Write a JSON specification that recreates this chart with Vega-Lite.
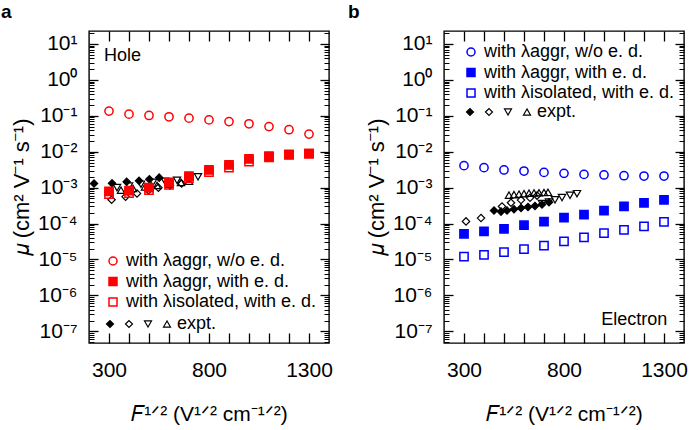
{
  "$schema": "https://vega.github.io/schema/vega-lite/v6.json",
  "padding": {"left": 0, "top": 2, "right": 5, "bottom": 5},
  "config": {
    "font": "Liberation Sans",
    "view": {"stroke": "black", "strokeWidth": 1.4},
    "axis": {"domain": false, "grid": false, "tickColor": "black", "tickWidth": 1.3, "labelColor": "black", "titleColor": "black", "titleFontWeight": "normal", "labelFontSize": 21, "titleFontSize": 21, "labelFlush": false, "labelOverlap": false},
    "legend": {"labelFontSize": 18, "labelColor": "black", "padding": 0, "labelLimit": 400}
  },
  "datasets": {
    "a_calc": [
      {"x": 300, "mu": 0.135, "series": "with λaggr, w/o e. d."},
      {"x": 400, "mu": 0.111, "series": "with λaggr, w/o e. d."},
      {"x": 500, "mu": 0.102, "series": "with λaggr, w/o e. d."},
      {"x": 600, "mu": 0.094, "series": "with λaggr, w/o e. d."},
      {"x": 700, "mu": 0.086, "series": "with λaggr, w/o e. d."},
      {"x": 800, "mu": 0.077, "series": "with λaggr, w/o e. d."},
      {"x": 900, "mu": 0.069, "series": "with λaggr, w/o e. d."},
      {"x": 1000, "mu": 0.060, "series": "with λaggr, w/o e. d."},
      {"x": 1100, "mu": 0.050, "series": "with λaggr, w/o e. d."},
      {"x": 1200, "mu": 0.041, "series": "with λaggr, w/o e. d."},
      {"x": 1300, "mu": 0.031, "series": "with λaggr, w/o e. d."},
      {"x": 300, "mu": 0.00079, "series": "with λaggr, with e. d."},
      {"x": 400, "mu": 0.00083, "series": "with λaggr, with e. d."},
      {"x": 500, "mu": 0.0010, "series": "with λaggr, with e. d."},
      {"x": 600, "mu": 0.0014, "series": "with λaggr, with e. d."},
      {"x": 700, "mu": 0.0021, "series": "with λaggr, with e. d."},
      {"x": 800, "mu": 0.0031, "series": "with λaggr, with e. d."},
      {"x": 900, "mu": 0.0043, "series": "with λaggr, with e. d."},
      {"x": 1000, "mu": 0.0063, "series": "with λaggr, with e. d."},
      {"x": 1100, "mu": 0.0076, "series": "with λaggr, with e. d."},
      {"x": 1200, "mu": 0.0084, "series": "with λaggr, with e. d."},
      {"x": 1300, "mu": 0.0089, "series": "with λaggr, with e. d."},
      {"x": 300, "mu": 0.00066, "series": "with λisolated, with e. d."},
      {"x": 400, "mu": 0.00070, "series": "with λisolated, with e. d."},
      {"x": 500, "mu": 0.00085, "series": "with λisolated, with e. d."},
      {"x": 600, "mu": 0.0012, "series": "with λisolated, with e. d."},
      {"x": 700, "mu": 0.0018, "series": "with λisolated, with e. d."},
      {"x": 800, "mu": 0.0027, "series": "with λisolated, with e. d."},
      {"x": 900, "mu": 0.0036, "series": "with λisolated, with e. d."},
      {"x": 1000, "mu": 0.0053, "series": "with λisolated, with e. d."},
      {"x": 1100, "mu": 0.0070, "series": "with λisolated, with e. d."},
      {"x": 1200, "mu": 0.0082, "series": "with λisolated, with e. d."},
      {"x": 1300, "mu": 0.0088, "series": "with λisolated, with e. d."}
    ],
    "a_expt": [
      {"x": 225, "mu": 0.0013, "series": "e1"},
      {"x": 315, "mu": 0.00132, "series": "e1"},
      {"x": 388, "mu": 0.00145, "series": "e1"},
      {"x": 450, "mu": 0.00155, "series": "e1"},
      {"x": 502, "mu": 0.00172, "series": "e1"},
      {"x": 551, "mu": 0.0019, "series": "e1"},
      {"x": 313, "mu": 0.00046, "series": "e2"},
      {"x": 383, "mu": 0.00056, "series": "e2"},
      {"x": 440, "mu": 0.00069, "series": "e2"},
      {"x": 497, "mu": 0.00085, "series": "e2"},
      {"x": 547, "mu": 0.0010, "series": "e2"},
      {"x": 605, "mu": 0.00115, "series": "e2"},
      {"x": 663, "mu": 0.0013, "series": "e2"},
      {"x": 340, "mu": 0.0010, "series": "e3"},
      {"x": 400, "mu": 0.0011, "series": "e3"},
      {"x": 460, "mu": 0.00125, "series": "e3"},
      {"x": 520, "mu": 0.0014, "series": "e3"},
      {"x": 580, "mu": 0.0015, "series": "e3"},
      {"x": 640, "mu": 0.0016, "series": "e3"},
      {"x": 700, "mu": 0.00175, "series": "e3"},
      {"x": 745, "mu": 0.0020, "series": "e3"},
      {"x": 360, "mu": 0.00085, "series": "e4"},
      {"x": 420, "mu": 0.00095, "series": "e4"},
      {"x": 480, "mu": 0.00105, "series": "e4"},
      {"x": 540, "mu": 0.00115, "series": "e4"},
      {"x": 600, "mu": 0.00125, "series": "e4"},
      {"x": 660, "mu": 0.0014, "series": "e4"},
      {"x": 700, "mu": 0.0015, "series": "e4"}
    ],
    "b_calc": [
      {"x": 300, "mu": 0.0041, "series": "with λaggr, w/o e. d."},
      {"x": 400, "mu": 0.0036, "series": "with λaggr, w/o e. d."},
      {"x": 500, "mu": 0.0031, "series": "with λaggr, w/o e. d."},
      {"x": 600, "mu": 0.0029, "series": "with λaggr, w/o e. d."},
      {"x": 700, "mu": 0.00266, "series": "with λaggr, w/o e. d."},
      {"x": 800, "mu": 0.0025, "series": "with λaggr, w/o e. d."},
      {"x": 900, "mu": 0.00234, "series": "with λaggr, w/o e. d."},
      {"x": 1000, "mu": 0.00225, "series": "with λaggr, w/o e. d."},
      {"x": 1100, "mu": 0.00215, "series": "with λaggr, w/o e. d."},
      {"x": 1200, "mu": 0.0021, "series": "with λaggr, w/o e. d."},
      {"x": 1300, "mu": 0.0021, "series": "with λaggr, w/o e. d."},
      {"x": 300, "mu": 0.000052, "series": "with λaggr, with e. d."},
      {"x": 400, "mu": 0.000061, "series": "with λaggr, with e. d."},
      {"x": 500, "mu": 0.000071, "series": "with λaggr, with e. d."},
      {"x": 600, "mu": 0.000090, "series": "with λaggr, with e. d."},
      {"x": 700, "mu": 0.000114, "series": "with λaggr, with e. d."},
      {"x": 800, "mu": 0.000147, "series": "with λaggr, with e. d."},
      {"x": 900, "mu": 0.000178, "series": "with λaggr, with e. d."},
      {"x": 1000, "mu": 0.00023, "series": "with λaggr, with e. d."},
      {"x": 1100, "mu": 0.00030, "series": "with λaggr, with e. d."},
      {"x": 1200, "mu": 0.000376, "series": "with λaggr, with e. d."},
      {"x": 1300, "mu": 0.000455, "series": "with λaggr, with e. d."},
      {"x": 300, "mu": 0.0000121, "series": "with λisolated, with e. d."},
      {"x": 400, "mu": 0.0000135, "series": "with λisolated, with e. d."},
      {"x": 500, "mu": 0.000016, "series": "with λisolated, with e. d."},
      {"x": 600, "mu": 0.0000193, "series": "with λisolated, with e. d."},
      {"x": 700, "mu": 0.0000245, "series": "with λisolated, with e. d."},
      {"x": 800, "mu": 0.000032, "series": "with λisolated, with e. d."},
      {"x": 900, "mu": 0.000041, "series": "with λisolated, with e. d."},
      {"x": 1000, "mu": 0.000054, "series": "with λisolated, with e. d."},
      {"x": 1100, "mu": 0.000067, "series": "with λisolated, with e. d."},
      {"x": 1200, "mu": 0.000083, "series": "with λisolated, with e. d."},
      {"x": 1300, "mu": 0.000111, "series": "with λisolated, with e. d."}
    ],
    "b_expt": [
      {"x": 450, "mu": 0.00023, "series": "e1"},
      {"x": 485, "mu": 0.000215, "series": "e1"},
      {"x": 515, "mu": 0.00023, "series": "e1"},
      {"x": 550, "mu": 0.00025, "series": "e1"},
      {"x": 585, "mu": 0.00027, "series": "e1"},
      {"x": 620, "mu": 0.00029, "series": "e1"},
      {"x": 655, "mu": 0.00031, "series": "e1"},
      {"x": 690, "mu": 0.00034, "series": "e1"},
      {"x": 725, "mu": 0.00039, "series": "e1"},
      {"x": 310, "mu": 0.000115, "series": "e2"},
      {"x": 385, "mu": 0.000142, "series": "e2"},
      {"x": 490, "mu": 0.00030, "series": "e2"},
      {"x": 535, "mu": 0.00038, "series": "e2"},
      {"x": 585, "mu": 0.00045, "series": "e2"},
      {"x": 630, "mu": 0.00052, "series": "e2"},
      {"x": 665, "mu": 0.00060, "series": "e2"},
      {"x": 690, "mu": 0.00036, "series": "e3"},
      {"x": 725, "mu": 0.00040, "series": "e3"},
      {"x": 755, "mu": 0.00046, "series": "e3"},
      {"x": 790, "mu": 0.00053, "series": "e3"},
      {"x": 830, "mu": 0.00061, "series": "e3"},
      {"x": 865, "mu": 0.00068, "series": "e3"},
      {"x": 525, "mu": 0.00062, "series": "e4"},
      {"x": 550, "mu": 0.00064, "series": "e4"},
      {"x": 575, "mu": 0.00066, "series": "e4"},
      {"x": 600, "mu": 0.00068, "series": "e4"},
      {"x": 625, "mu": 0.00070, "series": "e4"},
      {"x": 650, "mu": 0.00071, "series": "e4"},
      {"x": 675, "mu": 0.00072, "series": "e4"},
      {"x": 700, "mu": 0.00073, "series": "e4"},
      {"x": 720, "mu": 0.00074, "series": "e4"}
    ]
  },
  "spacing": 115,
  "bounds": "flush",
  "resolve": {"scale": {"shape": "independent", "fill": "independent", "stroke": "independent"}, "legend": {"shape": "independent", "fill": "independent", "stroke": "independent"}},
  "hconcat": [
    {
      "width": 240,
      "height": 312,
      "title": {"text": "a", "anchor": "start", "frame": "group", "fontSize": 19, "fontWeight": "bold", "dx": -88, "offset": 8, "color": "black"},
      "layer": [
        {
          "data": {"name": "a_expt"},
          "mark": {"type": "point", "opacity": 1, "strokeWidth": 1.2, "size": 54},
          "encoding": {
            "x": {"field": "x", "type": "quantitative", "scale": {"domain": [200, 1400], "nice": false, "zero": false},
              "axis": {"orient": "bottom", "values": [300, 800, 1300], "format": "d", "ticks": false, "labelPadding": 16, "title": "𝐹¹ᐟ² (V¹ᐟ² cm⁻¹ᐟ²)", "titleBaseline": "alphabetic", "titleY": 77}},
            "y": {"field": "mu", "type": "quantitative", "scale": {"type": "log", "domain": [4.73e-8, 22.96], "nice": false},
              "axis": {"orient": "left", "values": [1e-7, 1e-6, 1e-5, 1e-4, 1e-3, 0.01, 0.1, 1, 10], "labelExpr": "['10⁻⁷','10⁻⁶','10⁻⁵','10⁻⁴','10⁻³','10⁻²','10⁻¹','10⁰','10¹'][round(log(datum.value)/LN10)+7]", "ticks": false, "labelPadding": 12, "title": null}},
            "shape": {"field": "series", "type": "nominal", "scale": {"domain": ["e1", "e2", "e3", "e4"], "range": ["diamond", "diamond", "triangle-down", "triangle-up"]},
              "legend": {"orient": "none", "legendX": 12, "legendY": 284, "title": null, "direction": "horizontal", "columns": 4, "labelExpr": "datum.label == 'e4' ? 'expt.' : ''", "symbolSize": 49, "symbolStrokeWidth": 1.2, "labelOffset": 1, "columnPadding": 0}},
            "fill": {"field": "series", "type": "nominal", "scale": {"domain": ["e1", "e2", "e3", "e4"], "range": ["black", "transparent", "transparent", "transparent"]},
              "legend": {"orient": "none", "legendX": 12, "legendY": 284, "title": null, "direction": "horizontal", "columns": 4, "labelExpr": "datum.label == 'e4' ? 'expt.' : ''", "symbolSize": 49, "symbolStrokeWidth": 1.2, "labelOffset": 1, "columnPadding": 0}},
            "stroke": {"field": "series", "type": "nominal", "scale": {"domain": ["e1", "e2", "e3", "e4"], "range": ["black", "black", "black", "black"]},
              "legend": {"orient": "none", "legendX": 12, "legendY": 284, "title": null, "direction": "horizontal", "columns": 4, "labelExpr": "datum.label == 'e4' ? 'expt.' : ''", "symbolSize": 49, "symbolStrokeWidth": 1.2, "labelOffset": 1, "columnPadding": 0}}
          }
        },
        {
          "data": {"name": "a_calc"},
          "mark": {"type": "point", "opacity": 1, "strokeWidth": 1.5, "size": 68},
          "encoding": {
            "x": {"field": "x", "type": "quantitative", "scale": {"domain": [200, 1400], "nice": false, "zero": false},
              "axis": {"orient": "top", "values": [300, 400, 500, 600, 700, 800, 900, 1000, 1100, 1200, 1300], "labels": false, "tickSize": -10, "title": null}},
            "y": {"field": "mu", "type": "quantitative", "scale": {"type": "log", "domain": [4.73e-8, 22.96], "nice": false},
              "axis": {"orient": "right", "values": [1e-7, 1e-6, 1e-5, 1e-4, 1e-3, 0.01, 0.1, 1, 10], "labels": false, "tickSize": -9, "title": null}},
            "shape": {"field": "series", "type": "nominal", "scale": {"domain": ["with λaggr, w/o e. d.", "with λaggr, with e. d.", "with λisolated, with e. d."], "range": ["circle", "square", "square"]},
              "legend": {"orient": "none", "legendX": 15, "legendY": 221, "title": null, "symbolSize": 64, "symbolStrokeWidth": 1.5, "labelOffset": 4, "rowPadding": 2.5}},
            "fill": {"field": "series", "type": "nominal", "scale": {"domain": ["with λaggr, w/o e. d.", "with λaggr, with e. d.", "with λisolated, with e. d."], "range": ["transparent", "#ff0000", "transparent"]},
              "legend": {"orient": "none", "legendX": 15, "legendY": 221, "title": null, "symbolSize": 64, "symbolStrokeWidth": 1.5, "labelOffset": 4, "rowPadding": 2.5}},
            "stroke": {"field": "series", "type": "nominal", "scale": {"domain": ["with λaggr, w/o e. d.", "with λaggr, with e. d.", "with λisolated, with e. d."], "range": ["#ff0000", "#ff0000", "#ff0000"]},
              "legend": {"orient": "none", "legendX": 15, "legendY": 221, "title": null, "symbolSize": 64, "symbolStrokeWidth": 1.5, "labelOffset": 4, "rowPadding": 2.5}}
          }
        },
        {
          "data": {"name": "a_calc"},
          "mark": {"type": "point", "opacity": 0},
          "encoding": {
            "x": {"field": "x", "type": "quantitative", "scale": {"domain": [200, 1400], "nice": false, "zero": false},
              "axis": {"orient": "bottom", "values": [300, 400, 500, 600, 700, 800, 900, 1000, 1100, 1200, 1300], "labels": false, "tickSize": -10, "title": null}},
            "y": {"field": "mu", "type": "quantitative", "scale": {"type": "log", "domain": [4.73e-8, 22.96], "nice": false},
              "axis": {"orient": "left", "values": [5e-8, 6e-8, 7e-8, 8e-8, 9e-8, 2e-7, 3e-7, 4e-7, 5e-7, 6e-7, 7e-7, 8e-7, 9e-7, 2e-6, 3e-6, 4e-6, 5e-6, 6e-6, 7e-6, 8e-6, 9e-6, 2e-5, 3e-5, 4e-5, 5e-5, 6e-5, 7e-5, 8e-5, 9e-5, 2e-4, 3e-4, 4e-4, 5e-4, 6e-4, 7e-4, 8e-4, 9e-4, 0.002, 0.003, 0.004, 0.005, 0.006, 0.007, 0.008, 0.009, 0.02, 0.03, 0.04, 0.05, 0.06, 0.07, 0.08, 0.09, 0.2, 0.3, 0.4, 0.5, 0.6, 0.7, 0.8, 0.9, 2, 3, 4, 5, 6, 7, 8, 9, 20], "labels": false, "tickSize": -5, "tickWidth": 1, "title": null}}
          }
        },
        {
          "data": {"name": "a_calc"},
          "mark": {"type": "point", "opacity": 0},
          "encoding": {
            "x": {"field": "x", "type": "quantitative", "scale": {"domain": [200, 1400], "nice": false, "zero": false}, "axis": null},
            "y": {"field": "mu", "type": "quantitative", "scale": {"type": "log", "domain": [4.73e-8, 22.96], "nice": false},
              "axis": {"orient": "right", "values": [5e-8, 6e-8, 7e-8, 8e-8, 9e-8, 2e-7, 3e-7, 4e-7, 5e-7, 6e-7, 7e-7, 8e-7, 9e-7, 2e-6, 3e-6, 4e-6, 5e-6, 6e-6, 7e-6, 8e-6, 9e-6, 2e-5, 3e-5, 4e-5, 5e-5, 6e-5, 7e-5, 8e-5, 9e-5, 2e-4, 3e-4, 4e-4, 5e-4, 6e-4, 7e-4, 8e-4, 9e-4, 0.002, 0.003, 0.004, 0.005, 0.006, 0.007, 0.008, 0.009, 0.02, 0.03, 0.04, 0.05, 0.06, 0.07, 0.08, 0.09, 0.2, 0.3, 0.4, 0.5, 0.6, 0.7, 0.8, 0.9, 2, 3, 4, 5, 6, 7, 8, 9, 20], "labels": false, "tickSize": -5, "tickWidth": 1, "title": null}}
          }
        },
        {
          "data": {"name": "a_calc"},
          "mark": {"type": "point", "opacity": 0},
          "encoding": {
            "x": {"field": "x", "type": "quantitative", "scale": {"domain": [200, 1400], "nice": false, "zero": false}, "axis": null},
            "y": {"field": "mu", "type": "quantitative", "scale": {"type": "log", "domain": [4.73e-8, 22.96], "nice": false},
              "axis": {"orient": "left", "values": [1e-7, 1e-6, 1e-5, 1e-4, 1e-3, 0.01, 0.1, 1, 10], "labels": false, "tickSize": -9, "title": "𝜇 (cm² V⁻¹ s⁻¹)", "titleFontSize": 22, "titlePadding": 55}}
          }
        },
        {
          "data": {"values": [{}]},
          "mark": {"type": "text", "align": "left", "baseline": "middle", "fontSize": 18, "color": "black"},
          "encoding": {
            "x": {"datum": 275, "type": "quantitative", "scale": {"domain": [200, 1400], "nice": false, "zero": false}, "axis": null},
            "y": {"datum": 4.64, "type": "quantitative", "scale": {"type": "log", "domain": [4.73e-8, 22.96], "nice": false}, "axis": null},
            "text": {"value": "Hole"}
          }
        }
      ],
      "resolve": {"scale": {"shape": "independent", "fill": "independent", "stroke": "independent"}, "legend": {"shape": "independent", "fill": "independent", "stroke": "independent"}, "axis": {"x": "independent", "y": "independent"}}
    },
    {
      "width": 240,
      "height": 312,
      "title": {"text": "b", "anchor": "start", "frame": "group", "fontSize": 19, "fontWeight": "bold", "dx": -96, "offset": 8, "color": "black"},
      "layer": [
        {
          "data": {"name": "b_expt"},
          "mark": {"type": "point", "opacity": 1, "strokeWidth": 1.2, "size": 54},
          "encoding": {
            "x": {"field": "x", "type": "quantitative", "scale": {"domain": [200, 1400], "nice": false, "zero": false},
              "axis": {"orient": "bottom", "values": [300, 800, 1300], "format": "d", "ticks": false, "labelPadding": 16, "title": "𝐹¹ᐟ² (V¹ᐟ² cm⁻¹ᐟ²)", "titleBaseline": "alphabetic", "titleY": 77}},
            "y": {"field": "mu", "type": "quantitative", "scale": {"type": "log", "domain": [4.73e-8, 22.96], "nice": false},
              "axis": {"orient": "left", "values": [1e-7, 1e-6, 1e-5, 1e-4, 1e-3, 0.01, 0.1, 1, 10], "labelExpr": "['10⁻⁷','10⁻⁶','10⁻⁵','10⁻⁴','10⁻³','10⁻²','10⁻¹','10⁰','10¹'][round(log(datum.value)/LN10)+7]", "ticks": false, "labelPadding": 12, "title": null}},
            "shape": {"field": "series", "type": "nominal", "scale": {"domain": ["e1", "e2", "e3", "e4"], "range": ["diamond", "diamond", "triangle-down", "triangle-up"]},
              "legend": {"orient": "none", "legendX": 17, "legendY": 72, "title": null, "direction": "horizontal", "columns": 4, "labelExpr": "datum.label == 'e4' ? 'expt.' : ''", "symbolSize": 49, "symbolStrokeWidth": 1.2, "labelOffset": 1, "columnPadding": 0}},
            "fill": {"field": "series", "type": "nominal", "scale": {"domain": ["e1", "e2", "e3", "e4"], "range": ["black", "transparent", "transparent", "transparent"]},
              "legend": {"orient": "none", "legendX": 17, "legendY": 72, "title": null, "direction": "horizontal", "columns": 4, "labelExpr": "datum.label == 'e4' ? 'expt.' : ''", "symbolSize": 49, "symbolStrokeWidth": 1.2, "labelOffset": 1, "columnPadding": 0}},
            "stroke": {"field": "series", "type": "nominal", "scale": {"domain": ["e1", "e2", "e3", "e4"], "range": ["black", "black", "black", "black"]},
              "legend": {"orient": "none", "legendX": 17, "legendY": 72, "title": null, "direction": "horizontal", "columns": 4, "labelExpr": "datum.label == 'e4' ? 'expt.' : ''", "symbolSize": 49, "symbolStrokeWidth": 1.2, "labelOffset": 1, "columnPadding": 0}}
          }
        },
        {
          "data": {"name": "b_calc"},
          "mark": {"type": "point", "opacity": 1, "strokeWidth": 1.5, "size": 68},
          "encoding": {
            "x": {"field": "x", "type": "quantitative", "scale": {"domain": [200, 1400], "nice": false, "zero": false},
              "axis": {"orient": "top", "values": [300, 400, 500, 600, 700, 800, 900, 1000, 1100, 1200, 1300], "labels": false, "tickSize": -10, "title": null}},
            "y": {"field": "mu", "type": "quantitative", "scale": {"type": "log", "domain": [4.73e-8, 22.96], "nice": false},
              "axis": {"orient": "right", "values": [1e-7, 1e-6, 1e-5, 1e-4, 1e-3, 0.01, 0.1, 1, 10], "labels": false, "tickSize": -9, "title": null}},
            "shape": {"field": "series", "type": "nominal", "scale": {"domain": ["with λaggr, w/o e. d.", "with λaggr, with e. d.", "with λisolated, with e. d."], "range": ["circle", "square", "square"]},
              "legend": {"orient": "none", "legendX": 18, "legendY": 12, "title": null, "symbolSize": 64, "symbolStrokeWidth": 1.5, "labelOffset": 4, "rowPadding": 2.5}},
            "fill": {"field": "series", "type": "nominal", "scale": {"domain": ["with λaggr, w/o e. d.", "with λaggr, with e. d.", "with λisolated, with e. d."], "range": ["transparent", "#0000ff", "transparent"]},
              "legend": {"orient": "none", "legendX": 18, "legendY": 12, "title": null, "symbolSize": 64, "symbolStrokeWidth": 1.5, "labelOffset": 4, "rowPadding": 2.5}},
            "stroke": {"field": "series", "type": "nominal", "scale": {"domain": ["with λaggr, w/o e. d.", "with λaggr, with e. d.", "with λisolated, with e. d."], "range": ["#0000ff", "#0000ff", "#0000ff"]},
              "legend": {"orient": "none", "legendX": 18, "legendY": 12, "title": null, "symbolSize": 64, "symbolStrokeWidth": 1.5, "labelOffset": 4, "rowPadding": 2.5}}
          }
        },
        {
          "data": {"name": "b_calc"},
          "mark": {"type": "point", "opacity": 0},
          "encoding": {
            "x": {"field": "x", "type": "quantitative", "scale": {"domain": [200, 1400], "nice": false, "zero": false},
              "axis": {"orient": "bottom", "values": [300, 400, 500, 600, 700, 800, 900, 1000, 1100, 1200, 1300], "labels": false, "tickSize": -10, "title": null}},
            "y": {"field": "mu", "type": "quantitative", "scale": {"type": "log", "domain": [4.73e-8, 22.96], "nice": false},
              "axis": {"orient": "left", "values": [5e-8, 6e-8, 7e-8, 8e-8, 9e-8, 2e-7, 3e-7, 4e-7, 5e-7, 6e-7, 7e-7, 8e-7, 9e-7, 2e-6, 3e-6, 4e-6, 5e-6, 6e-6, 7e-6, 8e-6, 9e-6, 2e-5, 3e-5, 4e-5, 5e-5, 6e-5, 7e-5, 8e-5, 9e-5, 2e-4, 3e-4, 4e-4, 5e-4, 6e-4, 7e-4, 8e-4, 9e-4, 0.002, 0.003, 0.004, 0.005, 0.006, 0.007, 0.008, 0.009, 0.02, 0.03, 0.04, 0.05, 0.06, 0.07, 0.08, 0.09, 0.2, 0.3, 0.4, 0.5, 0.6, 0.7, 0.8, 0.9, 2, 3, 4, 5, 6, 7, 8, 9, 20], "labels": false, "tickSize": -5, "tickWidth": 1, "title": null}}
          }
        },
        {
          "data": {"name": "b_calc"},
          "mark": {"type": "point", "opacity": 0},
          "encoding": {
            "x": {"field": "x", "type": "quantitative", "scale": {"domain": [200, 1400], "nice": false, "zero": false}, "axis": null},
            "y": {"field": "mu", "type": "quantitative", "scale": {"type": "log", "domain": [4.73e-8, 22.96], "nice": false},
              "axis": {"orient": "right", "values": [5e-8, 6e-8, 7e-8, 8e-8, 9e-8, 2e-7, 3e-7, 4e-7, 5e-7, 6e-7, 7e-7, 8e-7, 9e-7, 2e-6, 3e-6, 4e-6, 5e-6, 6e-6, 7e-6, 8e-6, 9e-6, 2e-5, 3e-5, 4e-5, 5e-5, 6e-5, 7e-5, 8e-5, 9e-5, 2e-4, 3e-4, 4e-4, 5e-4, 6e-4, 7e-4, 8e-4, 9e-4, 0.002, 0.003, 0.004, 0.005, 0.006, 0.007, 0.008, 0.009, 0.02, 0.03, 0.04, 0.05, 0.06, 0.07, 0.08, 0.09, 0.2, 0.3, 0.4, 0.5, 0.6, 0.7, 0.8, 0.9, 2, 3, 4, 5, 6, 7, 8, 9, 20], "labels": false, "tickSize": -5, "tickWidth": 1, "title": null}}
          }
        },
        {
          "data": {"name": "b_calc"},
          "mark": {"type": "point", "opacity": 0},
          "encoding": {
            "x": {"field": "x", "type": "quantitative", "scale": {"domain": [200, 1400], "nice": false, "zero": false}, "axis": null},
            "y": {"field": "mu", "type": "quantitative", "scale": {"type": "log", "domain": [4.73e-8, 22.96], "nice": false},
              "axis": {"orient": "left", "values": [1e-7, 1e-6, 1e-5, 1e-4, 1e-3, 0.01, 0.1, 1, 10], "labels": false, "tickSize": -9, "title": "𝜇 (cm² V⁻¹ s⁻¹)", "titleFontSize": 22, "titlePadding": 55}}
          }
        },
        {
          "data": {"values": [{}]},
          "mark": {"type": "text", "align": "right", "baseline": "middle", "fontSize": 18, "color": "black"},
          "encoding": {
            "x": {"datum": 1316, "type": "quantitative", "scale": {"domain": [200, 1400], "nice": false, "zero": false}, "axis": null},
            "y": {"datum": 2.1e-7, "type": "quantitative", "scale": {"type": "log", "domain": [4.73e-8, 22.96], "nice": false}, "axis": null},
            "text": {"value": "Electron"}
          }
        }
      ],
      "resolve": {"scale": {"shape": "independent", "fill": "independent", "stroke": "independent"}, "legend": {"shape": "independent", "fill": "independent", "stroke": "independent"}, "axis": {"x": "independent", "y": "independent"}}
    }
  ]
}
